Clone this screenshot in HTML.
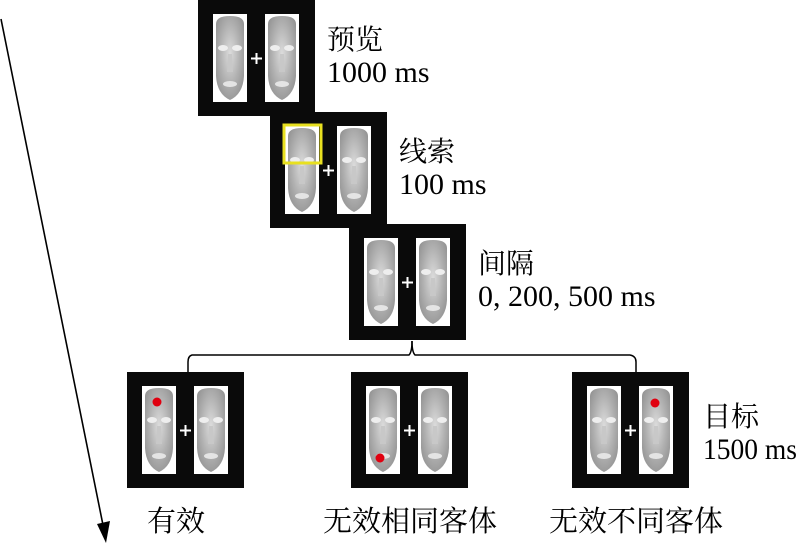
<!DOCTYPE html>
<html><head><meta charset="utf-8"><style>
html,body{margin:0;padding:0;background:#fff;}
svg{display:block;}
text{font-family:"Liberation Serif","Noto Serif CJK SC",serif;fill:#000;}
</style></head><body>
<svg width="800" height="544" viewBox="0 0 800 544" xmlns="http://www.w3.org/2000/svg">
<defs>
<radialGradient id="fg" cx="50%" cy="45%" r="60%">
<stop offset="0" stop-color="#dcdcdc"/><stop offset="0.6" stop-color="#b0b0b0"/><stop offset="1" stop-color="#959595"/>
</radialGradient>
<g id="face">
<rect x="0" y="0" width="34" height="88" fill="#fff"/>
<path d="M3,10 Q3,2 17,2 Q31,2 31,10 L31,62 Q30,80 17,86 Q4,80 3,62 Z" fill="url(#fg)"/>
<ellipse cx="10" cy="34" rx="5" ry="3" fill="#eee"/>
<ellipse cx="24" cy="34" rx="5" ry="3" fill="#eee"/>
<path d="M15,40 L14,58 L20,58 L19,40" fill="#c8c8c8"/>
<ellipse cx="17" cy="70" rx="7" ry="3" fill="#e4e4e4"/>
</g>
<g id="panel">
<rect x="0" y="0" width="117" height="116" fill="#0a0a0a"/>
<use href="#face" x="15" y="14"/>
<use href="#face" x="67" y="14"/>
<path d="M58.5,53 v11 M53,58.5 h11" stroke="#fff" stroke-width="2"/>
</g>
</defs>
<line x1="1" y1="19" x2="104" y2="530" stroke="#000" stroke-width="1.6"/>
<path d="M97,524 L106,543 L110,521 Z" fill="#000"/>

<use href="#panel" x="198" y="0"/>
<use href="#panel" x="270" y="112"/>
<rect x="284" y="125" width="37" height="38" fill="none" stroke="#e8e020" stroke-width="3"/>
<use href="#panel" x="349" y="224"/>

<path d="M412,341 Q412,352 409,355 L192,355 Q188,356 188,362 L188,372" fill="none" stroke="#000" stroke-width="1.5"/>
<path d="M412,341 Q412,352 415,355 L630,355 Q636,356 636,362 L636,372" fill="none" stroke="#000" stroke-width="1.5"/>

<use href="#panel" x="127" y="372"/>
<circle cx="157" cy="402" r="4.5" fill="#e00010"/>
<use href="#panel" x="351" y="372"/>
<circle cx="380" cy="458" r="4.5" fill="#e00010"/>
<use href="#panel" x="572" y="372"/>
<circle cx="655" cy="403" r="4.5" fill="#e00010"/>

<g font-size="28">
<text x="327" y="49">预览</text>
<text x="399" y="161">线索</text>
<text x="478" y="273">间隔</text>
<text x="703" y="426">目标</text>
<text x="176" y="531" text-anchor="middle" font-size="29">有效</text>
<text x="410" y="531" text-anchor="middle" font-size="29">无效相同客体</text>
<text x="636" y="531" text-anchor="middle" font-size="29">无效不同客体</text>
</g>
<g font-size="30">
<text x="327" y="82">1000 ms</text>
<text x="399" y="194">100 ms</text>
<text x="478" y="306">0, 200, 500 ms</text>
<text x="703" y="459" textLength="94" lengthAdjust="spacingAndGlyphs">1500 ms</text>
</g>
</svg>
</body></html>
